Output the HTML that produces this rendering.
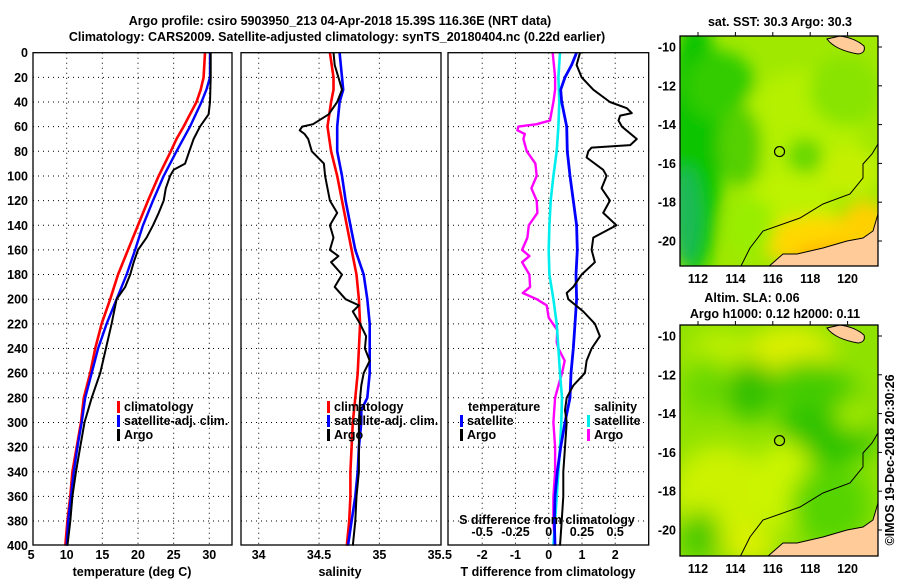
<!DOCTYPE html>
<html><head><meta charset="utf-8"><style>
body{margin:0;background:#fff;}
svg text{font-family:"Liberation Sans",Arial,sans-serif;font-weight:bold;font-size:12.5px;fill:#000;}
</style></head><body>
<svg id="fig" width="900" height="580" viewBox="0 0 900 580" xmlns="http://www.w3.org/2000/svg">
<defs>
<filter id="blur1" x="-20%" y="-20%" width="140%" height="140%"><feGaussianBlur stdDeviation="8"/></filter>
<filter id="blur2" x="-20%" y="-20%" width="140%" height="140%"><feGaussianBlur stdDeviation="12"/></filter>
<clipPath id="clipTop"><rect x="680" y="36" width="198" height="230"/></clipPath>
<clipPath id="clipBot"><rect x="680" y="325" width="198" height="231"/></clipPath>
</defs>
<text x="340" y="25" text-anchor="middle" font-size="13.5">Argo profile: csiro 5903950_213 04-Apr-2018 15.39S 116.36E (NRT data)</text>
<text x="337" y="41" text-anchor="middle" font-size="13.5">Climatology: CARS2009. Satellite-adjusted climatology: synTS_20180404.nc (0.22d earlier)</text>
<g id="plots"></g>
<g id="maps"></g>
</svg>
<script>
// ---- data (depth in m) ----
const depthClimT=[0,20,30,40,50,60,70,80,100,120,140,160,180,200,220,240,260,280,300,320,340,360,380,400];
const tempClim=[29.4,29.2,28.8,28.2,27.3,26.4,25.4,24.6,22.9,21.4,20.0,18.6,17.2,16.1,14.9,14.0,13.3,12.4,12.0,11.4,10.8,10.5,10.1,9.8];
const depthSatT=[0,20,30,40,60,80,100,120,140,160,180,200,220,240,260,280,300,320,340,360,380,400];
const tempSat=[30.1,30.1,29.6,28.9,27.3,25.4,23.6,22.1,20.7,19.6,18.4,17.0,15.6,14.4,13.5,12.6,12.1,11.5,11.0,10.6,10.2,10.0];
const depthArgoT=[0,20,40,50,60,70,80,90,95,100,110,120,130,140,150,160,170,180,190,200,220,240,260,280,300,320,340,360,380,400];
const tempArgo=[30.2,30.2,30.1,29.9,28.7,27.8,27.2,26.6,25.0,24.5,23.9,23.6,22.9,22.1,21.2,20.0,19.4,18.9,18.2,17.0,16.3,15.5,14.7,13.5,12.5,11.9,11.3,10.8,10.5,10.1];
const depthClimS=[0,20,30,40,60,80,100,120,140,160,180,200,220,240,260,280,300,320,340,360,380,400];
const salClim=[34.59,34.62,34.62,34.60,34.57,34.60,34.65,34.69,34.73,34.77,34.81,34.83,34.84,34.83,34.82,34.80,34.78,34.77,34.76,34.76,34.75,34.73];
const depthSatS=[0,20,30,40,60,80,100,120,140,160,180,200,220,240,260,280,290,300,320,340,360,380,400];
const salSat=[34.67,34.69,34.70,34.67,34.65,34.65,34.69,34.72,34.76,34.80,34.87,34.90,34.92,34.92,34.92,34.90,34.85,34.85,34.83,34.82,34.80,34.77,34.74];
const depthArgoS=[0,10,20,30,40,50,58,60,63,66,70,80,90,100,110,120,130,140,150,160,165,170,180,190,200,205,210,220,230,240,250,260,270,280,300,320,340,360,380,400];
const salArgo=[34.62,34.63,34.66,34.69,34.65,34.58,34.45,34.36,34.34,34.38,34.41,34.44,34.54,34.55,34.57,34.59,34.65,34.59,34.62,34.59,34.66,34.60,34.69,34.63,34.72,34.83,34.78,34.84,34.89,34.88,34.92,34.87,34.85,34.84,34.83,34.83,34.83,34.81,34.80,34.78];
const depthDT=[0,10,20,30,40,60,80,100,120,140,160,180,200,220,240,260,280,300,320,340,360,380,400];
const dTSat=[0.84,0.69,0.49,0.36,0.39,0.54,0.56,0.64,0.74,0.84,0.86,0.82,0.84,0.79,0.74,0.67,0.64,0.49,0.36,0.26,0.19,0.17,0.19];
const depthDS=[0,20,40,60,80,100,120,140,160,180,200,220,240,260,280,300,320,340,360,380,400];
const dSSat=[0.085,0.073,0.08,0.073,0.06,0.035,0.015,0.005,0,0.005,0.035,0.06,0.073,0.085,0.1,0.095,0.085,0.073,0.06,0.048,0.035];
const depthDSA=[0,20,30,40,55,58,60,63,66,70,80,90,100,110,120,130,140,150,160,165,170,180,190,195,200,205,215,225,235,240,250,260,270,280,300,320,340,360,380,400];
const dSArgo=[0.03,0.048,0.048,0.035,0.01,-0.09,-0.228,-0.235,-0.18,-0.19,-0.165,-0.1,-0.09,-0.13,-0.09,-0.085,-0.15,-0.16,-0.2,-0.145,-0.2,-0.145,-0.14,-0.195,-0.09,-0.015,0,0.065,0.06,0.073,0.12,0.1,0.073,0.048,0.035,0.048,0.048,0.035,0.035,0.048];
const depthDTA=[0,10,20,30,40,45,49,51,55,60,70,75,77,80,85,95,100,110,120,130,140,150,160,170,180,190,195,200,210,220,230,240,250,260,270,280,290,300,320,340,360,380,400];
const dTArgo=[0.94,0.84,0.99,1.34,1.84,2.35,2.5,2.15,2.1,2.2,2.65,2.45,1.29,1.19,1.14,1.64,1.74,1.59,1.84,1.64,2.04,1.34,1.29,1.39,0.99,0.74,0.54,0.59,1.04,1.39,1.54,1.29,1.14,1.09,0.74,0.54,0.49,0.54,0.49,0.44,0.44,0.39,0.34];
const depthTicks=[0,20,40,60,80,100,120,140,160,180,200,220,240,260,280,300,320,340,360,380,400];
const tTicks=[5,10,15,20,25,30];
const sTicks=["34","34.5","35","35.5"];
const dTTicks=["-2","-1","0","1","2"];
const dSTicks=["-0.5","-0.25","0","0.25","0.5"];
const lonTicks=[112,114,116,118,120];
const latTicks=[-10,-12,-14,-16,-18,-20];

// ---- axes ----
const PT=52.7, PB=545;
const yD=d=>PT+d*1.2325;
const xT=t=>66.7+(t-10)*7.13;
const xS=s=>258.7+(s-34)*120.7;
const xDT=v=>548.7+v*33.25;
const xDS=v=>548.7+v*133;
const NS="http://www.w3.org/2000/svg";
const plots=document.getElementById('plots');
function mk(tag,attrs,parent,txt){const e=document.createElementNS(NS,tag);for(const k in attrs)e.setAttribute(k,attrs[k]);if(txt!==undefined)e.textContent=txt;(parent||plots).appendChild(e);return e;}

const panels=[{x0:33,x1:232,name:'temperature-panel'},{x0:241,x1:441,name:'salinity-panel'},{x0:448,x1:648.7,name:'difference-panel'}];
panels.forEach((p,i)=>{
  const g=mk('g',{});
  
  
  depthTicks.forEach((d,j)=>{ if(j>0&&j<depthTicks.length-1){
    const l=mk('line',{x1:p.x0,x2:p.x1,y1:yD(d),y2:yD(d),stroke:'#000','stroke-width':1,'stroke-dasharray':'1,4'},g);
     }});
  let vx=[];
  if(i==0) vx=tTicks.slice(1).map(xT);
  if(i==1) vx=[34,34.5,35].map(xS);
  if(i==2) vx=[-2,-1,0,1,2].map(xDT);
  vx.forEach(x=>{const l=mk('line',{x1:x,x2:x,y1:PT,y2:PB,stroke:'#000','stroke-width':1,'stroke-dasharray':'1,4'},g);
     });
  p.g=g;
});

function series(xs,ds,xf,color,w,name){
  const pts=xs.map((v,k)=>xf(v).toFixed(1)+','+yD(ds[k]).toFixed(1)).join(' ');
  const l=mk('polyline',{points:pts,fill:'none',stroke:color,'stroke-width':w,'stroke-linejoin':'round'});
  
  
}
series(tempClim,depthClimT,xT,'#ff0000',2.6,'temp-climatology-line');
series(tempSat,depthSatT,xT,'#0000ff',2.4,'temp-satellite-line');
series(tempArgo,depthArgoT,xT,'#000',2,'temp-argo-line');
series(salClim,depthClimS,xS,'#ff0000',2.6,'sal-climatology-line');
series(salSat,depthSatS,xS,'#0000ff',2.6,'sal-satellite-line');
series(salArgo,depthArgoS,xS,'#000',2,'sal-argo-line');
series(dSArgo,depthDSA,xDS,'#ff00ff',2.4,'sdiff-argo-line');
series(dSSat,depthDS,xDS,'#00eeee',2.6,'sdiff-satellite-line');
series(dTSat,depthDT,xDT,'#0000ff',2.8,'tdiff-satellite-line');
series(dTArgo,depthDTA,xDT,'#000',2,'tdiff-argo-line');

panels.forEach(p=>{const r=mk('rect',{x:p.x0,y:PT,width:p.x1-p.x0,height:PB-PT,fill:'none',stroke:'#000','stroke-width':1.3});
   });

// tick labels
depthTicks.forEach(d=>{const t=mk('text',{x:28,y:yD(d)+4.5,'text-anchor':'end'},plots,String(d));
   });
tTicks.forEach(v=>{const t=mk('text',{x:xT(v),y:559,'text-anchor':'middle'},plots,String(v));
   });
sTicks.forEach(v=>{const t=mk('text',{x:xS(parseFloat(v)),y:559,'text-anchor':'middle'},plots,v);
   });
dTTicks.forEach(v=>{const t=mk('text',{x:xDT(parseFloat(v)),y:559,'text-anchor':'middle'},plots,v);
   });
dSTicks.forEach(v=>{const t=mk('text',{x:xDS(parseFloat(v)),y:536,'text-anchor':'middle'},plots,v);
   });

function txt(x,y,s,name,anchor){const t=mk('text',{x:x,y:y,'text-anchor':anchor||'start'},plots,s);
    return t;}
txt(132,576,'temperature (deg C)','temp-axis-title','middle');
txt(340,576,'salinity','sal-axis-title','middle');
txt(548,576,'T difference from climatology','tdiff-axis-title','middle');
txt(547,524,'S difference from climatology','sdiff-axis-title','middle');

function legend(x,y,color,label,name){
  const r=mk('rect',{x:x,y:y-10,width:3,height:12,fill:color});
   
  txt(x+7,y,label,name);
}
legend(117,411,'#ff0000','climatology','legend-temp-climatology');
legend(117,425,'#0000ff','satellite-adj. clim.','legend-temp-satellite');
legend(117,439,'#000','Argo','legend-temp-argo');
legend(327,411,'#ff0000','climatology','legend-sal-climatology');
legend(327,425,'#0000ff','satellite-adj. clim.','legend-sal-satellite');
legend(327,439,'#000','Argo','legend-sal-argo');
txt(468,411,'temperature','legend-temperature-heading');
legend(460,425,'#0000ff','satellite','legend-tdiff-satellite');
legend(460,439,'#000','Argo','legend-tdiff-argo');
txt(594,411,'salinity','legend-salinity-heading');
legend(587,425,'#00eeee','satellite','legend-sdiff-satellite');
legend(587,439,'#ff00ff','Argo','legend-sdiff-argo');

// ---- maps ----
const maps=document.getElementById('maps');
const MX0=680, MX1=878;
const lonX=lon=>698+(lon-112)*18.7;
function drawMap(top,bot,clip,blobs,base,name,filt){
  const latY=lat=>top+11+(-10-lat)*19.4;
  const g=mk('g',{},maps);
   
  const inner=mk('g',{'clip-path':'url(#'+clip+')'},g);
  mk('rect',{x:MX0,y:top,width:MX1-MX0,height:bot-top,fill:base},inner);
  const bg=mk('g',{filter:'url(#'+filt+')'},inner);
  blobs.forEach(b=>mk('ellipse',{cx:MX0+b[0],cy:top+b[1],rx:b[2],ry:b[3],fill:b[4]},bg));
  const land=[[878,213],[873,230],[863,237],[847,240],[823,247],[797,253],[783,253],[767,267],[878,267]];
  const L=mk('polygon',{points:land.map(p=>p[0]+','+(p[1]-35+top)).join(' '),fill:'#ffcc99',stroke:'#000','stroke-width':1},inner);
   
  const isl=mk('path',{d:`M827 ${top+3} Q835 ${top+14} 858 ${top+18} Q866 ${top+17} 864 ${top+10} Q855 ${top+2} 840 ${top} Z`,fill:'#ffcc99',stroke:'#000','stroke-width':1},inner);
   
  const iso=[[740,267],[750,247],[763,230],[800,217],[823,203],[850,193],[863,177],[863,163],[872,153],[878,143]];
  const I=mk('polyline',{points:iso.map(p=>p[0]+','+(p[1]-35+top)).join(' '),fill:'none',stroke:'#000','stroke-width':1},inner);
   
  const c=mk('circle',{cx:lonX(116.36),cy:latY(-15.39),r:5,fill:'none',stroke:'#000','stroke-width':1.2},g);
   
  const fr=mk('rect',{x:MX0,y:top,width:MX1-MX0,height:bot-top,fill:'none',stroke:'#000','stroke-width':1.3},g);
   
  latTicks.forEach(v=>{const t=mk('text',{x:676,y:latY(v)+4.5,'text-anchor':'end'},g,String(v));
     
    mk('line',{x1:MX1,x2:MX1+4,y1:latY(v),y2:latY(v),stroke:'#000'},g);});
  lonTicks.forEach(v=>{const t=mk('text',{x:lonX(v),y:bot+17,'text-anchor':'middle'},g,String(v));
     
    mk('line',{x1:lonX(v),x2:lonX(v),y1:top-4,y2:top,stroke:'#000'},g);});
}
drawMap(36,266,'clipTop',[
  [15,110,28,130,'#11c400'],[5,180,15,50,'#1db85a'],[40,50,35,35,'#33cc00'],
  [120,90,60,55,'#b4f000'],[165,55,35,35,'#88e400'],[110,170,45,35,'#bdf200'],
  [140,205,60,25,'#ffd800'],[160,225,50,18,'#ffb400'],[185,195,25,30,'#ffd000'],
  [125,120,18,18,'#66d800'],[170,135,30,25,'#c4f000'],[70,190,25,30,'#99ee00'],[60,110,22,40,'#55d000']
],'#a0e800','sst-map','blur1');
drawMap(325,556,'clipBot',[
  [110,30,45,30,'#ddf000'],[40,40,35,35,'#bff000'],[70,65,25,30,'#33c000'],
  [150,100,50,40,'#2cc200'],[130,60,40,25,'#44cc00'],[175,90,20,15,'#aaee00'],
  [40,170,50,50,'#ccf200'],[105,160,30,45,'#ccf500'],[150,180,40,40,'#55d400'],
  [20,210,20,25,'#44c800'],[70,220,25,20,'#ddf000'],[25,60,20,30,'#66d800']
],'#8fe200','sla-map','blur2');
function mt(x,y,s,name){const t=mk('text',{x:x,y:y,'text-anchor':'middle'},maps,s);
   }
mt(780,26,'sat. SST: 30.3 Argo: 30.3','sst-map-title');
mt(752,302,'Altim. SLA: 0.06','sla-map-title');
mt(775,318,'Argo h1000: 0.12 h2000: 0.11','argo-height-title');
const cr=mk('text',{x:0,y:0,'text-anchor':'middle',transform:'translate(894,460) rotate(-90)','font-weight':'normal'},maps,'©IMOS 19-Dec-2018 20:30:26');
 
</script>
</body></html>
